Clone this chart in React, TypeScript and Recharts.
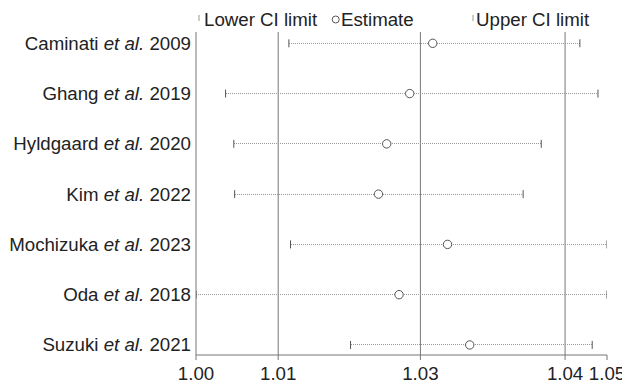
import React from 'react';
import {
  ComposedChart,
  Scatter,
  ErrorBar,
  XAxis,
  YAxis,
  ReferenceLine,
} from 'recharts';

const studies = ['Caminati', 'Ghang', 'Hyldgaard', 'Kim', 'Mochizuka', 'Oda', 'Suzuki'];
const years = [2009, 2019, 2020, 2022, 2023, 2018, 2021];
const estimates = [1.0288, 1.026, 1.0232, 1.0222, 1.0306, 1.0247, 1.0333];
const lowerCI = [1.0113, 1.0036, 1.0046, 1.0047, 1.0115, 1.0, 1.0188];
const upperCI = [1.0467, 1.0489, 1.042, 1.0398, 1.05, 1.05, 1.0482];
const xTicks = [1.0, 1.01, 1.0273, 1.0449, 1.05];

const FONT = '"Liberation Sans", Arial, Helvetica, sans-serif';
const FONT_SIZE = 18.7;
const TEXT = '#222';
const AXIS = '#777';

const rows = studies.map((name, i) => ({
  x: estimates[i],
  y: i,
  err: [estimates[i] - lowerCI[i], upperCI[i] - estimates[i]],
}));

const caps = studies.flatMap((_, i) => [
  { x: lowerCI[i], y: i },
  { x: upperCI[i], y: i },
]);

const StudyTick = (props: any) => {
  const { x, y, payload } = props;
  const i = payload.value;
  if (i < 0 || i >= studies.length) return null;
  return (
    <text x={x} y={y} dy="0.35em" textAnchor="end" fill={TEXT} fontSize={FONT_SIZE} fontFamily={FONT}>
      <tspan>{studies[i]} </tspan>
      <tspan fontStyle="italic">et al.</tspan>
      <tspan> {years[i]}</tspan>
    </text>
  );
};

const CapShape = (props: any) => {
  const { cx, cy } = props;
  return <line x1={cx} x2={cx} y1={cy - 4} y2={cy + 4} stroke="#555" strokeWidth={1} />;
};

const EstimateShape = (props: any) => {
  const { cx, cy } = props;
  return <circle cx={cx} cy={cy} r={4.2} fill="#fff" stroke="#555" strokeWidth={1} />;
};

const LegendRow = () => (
  <svg width={622} height={30} style={{ position: 'absolute', left: 0, top: 0 }}>
    <g fontFamily={FONT} fontSize={FONT_SIZE} fill={TEXT}>
      <line x1={191} x2={191} y1={7} y2={13} stroke="#999" />
      <text x={196} y={18}>Lower CI limit</text>
      <circle cx={327.7} cy={11.5} r={3.5} fill="#fff" stroke="#555" />
      <text x={333} y={18}>Estimate</text>
      <line x1={465} x2={465} y1={7} y2={13} stroke="#999" />
      <text x={468} y={18}>Upper CI limit</text>
    </g>
  </svg>
);

export default function App() {
  return (
    <div style={{ position: 'relative', width: 622, height: 376 }}>
      <ComposedChart
        width={622}
        height={376}
        margin={{ top: 24, right: 23, bottom: 1, left: 0 }}
      >
        <XAxis
          type="number"
          dataKey="x"
          domain={[1.0, 1.05]}
          ticks={xTicks}
          allowDataOverflow
          tickFormatter={(v: number) => v.toFixed(2)}
          stroke={AXIS}
          tickSize={5}
          tickMargin={7}
          height={28}
          tick={{ fill: TEXT, fontSize: FONT_SIZE, fontFamily: FONT }}
        />
        <YAxis
          type="number"
          dataKey="y"
          domain={[-0.225, 6.2]}
          ticks={[0, 1, 2, 3, 4, 5, 6]}
          reversed
          allowDataOverflow
          width={188}
          stroke={AXIS}
          tickLine={false}
          tickSize={0}
          tickMargin={5}
          tick={<StudyTick />}
        />
        {xTicks.slice(1, 4).map((v) => (
          <ReferenceLine key={v} x={v} stroke={AXIS} strokeWidth={1} />
        ))}
        <Scatter data={rows} isAnimationActive={false} shape={() => <g />}>
          <ErrorBar
            dataKey="err"
            direction="x"
            width={0}
            stroke="#999"
            strokeWidth={1}
            strokeDasharray="1 1"
            shapeRendering="crispEdges"
            isAnimationActive={false}
          />
        </Scatter>
        <Scatter data={caps} isAnimationActive={false} shape={<CapShape />} />
        <Scatter data={rows} isAnimationActive={false} shape={<EstimateShape />} />
      </ComposedChart>
      <LegendRow />
    </div>
  );
}
